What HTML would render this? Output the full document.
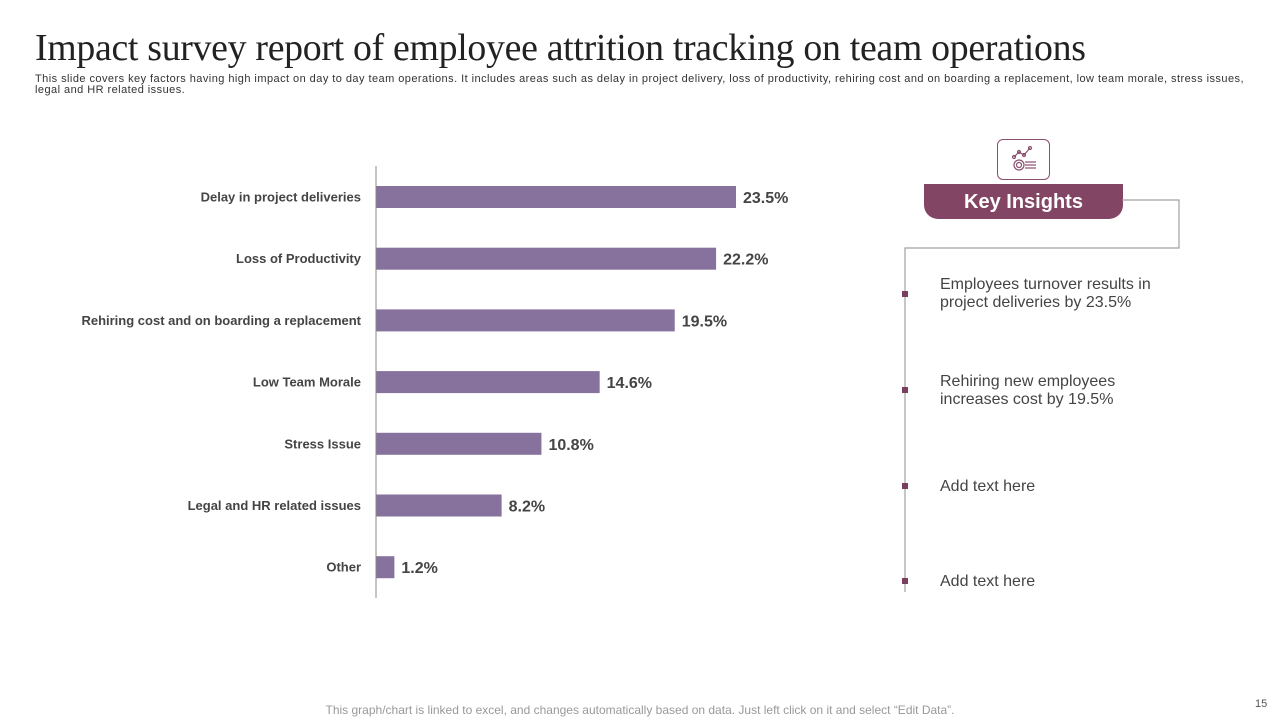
<!DOCTYPE html>
<html><head><meta charset="utf-8"><style>
body{margin:0;width:1280px;height:720px;background:#fff;position:relative;overflow:hidden;font-family:"Liberation Sans",sans-serif}
.abs{position:absolute}
h1{position:absolute;left:35px;top:26px;margin:0;font-family:"Liberation Serif",serif;font-weight:normal;font-size:37.8px;color:#222;letter-spacing:-0.3px}
.sub{left:35px;top:74px;width:1215px;font-size:11px;letter-spacing:0.45px;line-height:10.5px;color:#333}
.ins{font-size:16px;color:#444;line-height:18px;left:940px;width:240px}
.dot{width:6px;height:6px;background:#7a3f5f;left:902px}
</style></head><body>
<h1>Impact survey report of employee attrition tracking on team operations</h1>
<div class="abs sub">This slide covers key factors having high impact on day to day team operations. It includes areas such as delay in project delivery, loss of productivity, rehiring cost and on boarding a replacement, low team morale, stress issues, legal and HR related issues.</div>
<svg class="abs" style="left:0;top:0" width="900" height="620" id="chart"></svg>
<div class="abs" style="left:997px;top:139px;width:53px;height:41px;border:1px solid #8a5070;border-radius:6px;box-sizing:border-box">
<svg width="52" height="40"><g fill="none" stroke="#8a5070" stroke-width="1.2"><polyline points="16,17 21,12 26,15 32,8"/><circle cx="16" cy="17" r="1.5"/><circle cx="21" cy="12" r="1.5"/><circle cx="26" cy="15" r="1.5"/><circle cx="32" cy="8" r="1.5"/><circle cx="21" cy="25" r="5"/><circle cx="21" cy="25" r="2.5"/><line x1="27" y1="22" x2="38" y2="22"/><line x1="27" y1="25" x2="38" y2="25"/><line x1="27" y1="28" x2="38" y2="28"/></g></svg></div>
<div class="abs" style="left:924px;top:184px;width:199px;height:35px;background:#834564;border-radius:0 0 14px 14px;color:#fff;font-weight:bold;font-size:20px;text-align:center;line-height:37px">Key Insights</div>
<svg class="abs" style="left:0;top:0" width="1280" height="720"><polyline points="1122,200 1179,200 1179,248 905,248 905,592" fill="none" stroke="#a0a0a0" stroke-width="1.2"/></svg>
<div class="abs dot" style="top:291px"></div>
<div class="abs dot" style="top:387px"></div>
<div class="abs dot" style="top:483px"></div>
<div class="abs dot" style="top:578px"></div>
<div class="abs ins" style="top:276px">Employees turnover results in project deliveries by 23.5%</div>
<div class="abs ins" style="top:373px">Rehiring new employees increases cost by 19.5%</div>
<div class="abs ins" style="top:478px">Add text here</div>
<div class="abs ins" style="top:573px">Add text here</div>
<div class="abs" style="left:0;width:1280px;top:703px;text-align:center;font-size:12px;color:#999">This graph/chart is linked to excel, and changes automatically based on data. Just left click on it and select “Edit Data”.</div>
<div class="abs" style="left:1255px;top:698px;font-size:11px;color:#555">15</div>
<script>
const categories=["Delay in project deliveries","Loss of Productivity","Rehiring cost and on boarding a replacement","Low Team Morale","Stress Issue","Legal and HR related issues","Other"];
const values=[23.5,22.2,19.5,14.6,10.8,8.2,1.2];
const valueLabels=["23.5%","22.2%","19.5%","14.6%","10.8%","8.2%","1.2%"];
const svg=document.getElementById('chart');const NS='http://www.w3.org/2000/svg';
const x0=376,pxPer=360/23.5,yTop=166,step=61.7;
const xs=v=>x0+v*pxPer;const ys=i=>197+i*step;
function mk(t,a){const e=document.createElementNS(NS,t);for(const k in a)e.setAttribute(k,a[k]);svg.appendChild(e);return e;}
values.forEach((v,i)=>{
 const r=mk('rect',{x:x0,y:ys(i)-11,width:xs(v)-x0,height:22,fill:'#86729c'});
 
 
 const l=mk('text',{x:361,y:ys(i)+4.5,'text-anchor':'end','font-size':13,'font-weight':'bold',fill:'#444'});l.textContent=categories[i];
 
 
 const t=mk('text',{x:xs(v)+7,y:ys(i)+6,'font-size':16,'font-weight':'bold',fill:'#444'});t.textContent=valueLabels[i];
 
 
});
const ax=mk('line',{x1:x0,y1:yTop,x2:x0,y2:598,stroke:'#888','stroke-width':1});


</script>
</body></html>
